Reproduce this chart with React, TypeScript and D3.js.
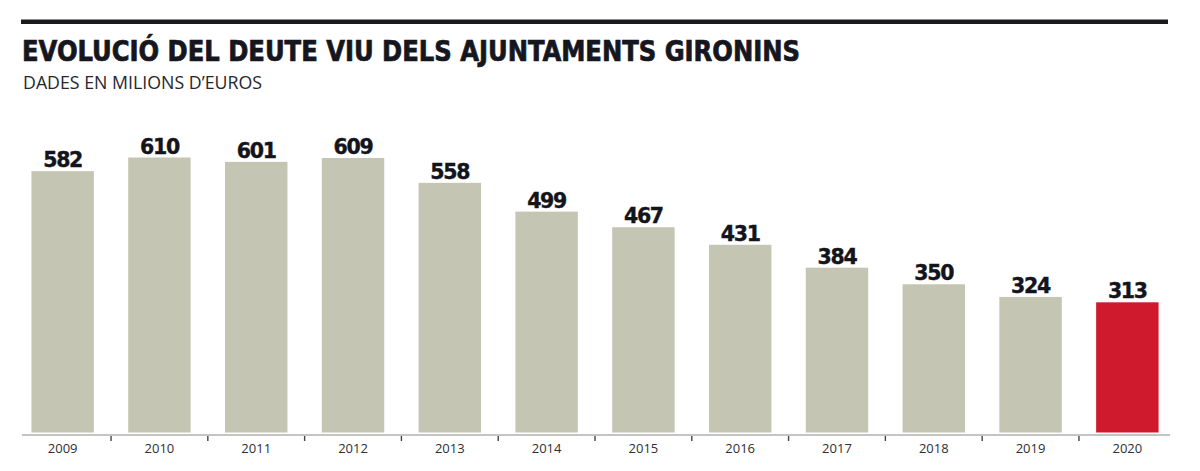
import React from "react";
import * as d3 from "d3";

const years = ["2009", "2010", "2011", "2012", "2013", "2014", "2015", "2016", "2017", "2018", "2019", "2020"];
const deute = [582, 610, 601, 609, 558, 499, 467, 431, 384, 350, 324, 313];
const highlightYear = "2020";

const W = 1200;
const H = 471;
const barBottom = 432.5;
const axisY = 435;

export default function App() {
    const x = d3.scaleBand<string>()
        .domain(years)
        .range([14, 1176])
        .paddingInner(0.355)
        .paddingOuter(0.18);

    // newspaper chart does not start at zero, fitted to the picture
    const y = d3.scaleLinear().domain([46, 610]).range([barBottom, 157.5]);

    const ticks = years.slice(1).map(yr => (x(yr) as number) - (x.step() - x.bandwidth()) / 2);

    return (
        <svg width={W} height={H} style={{position: "absolute", left: 0, top: 0, display: "block"}}>
            <rect x={0} y={0} width={W} height={H} fill="#ffffff"/>
            <rect x={21} y={19.5} width={1147} height={4.5} fill="#1b1b1f"/>
            <text x={22} y={61} fontFamily="'Liberation Sans Narrow', 'DejaVu Sans Condensed', sans-serif"
                  fontWeight="bold" fontSize={28} fill="#16161e" stroke="#16161e" strokeWidth={0.7}
                  textLength={778} lengthAdjust="spacingAndGlyphs">
                EVOLUCIÓ DEL DEUTE VIU DELS AJUNTAMENTS GIRONINS
            </text>
            <text x={23} y={88.5} fontFamily="'Open Sans', sans-serif" fontSize={17.5} fill="#26262c"
                  textLength={239} lengthAdjust="spacingAndGlyphs">
                DADES EN MILIONS D’EUROS
            </text>

            {years.map((yr, i) => (
                <g key={yr}>
                    <rect x={x(yr)} y={y(deute[i])} width={x.bandwidth()} height={barBottom - y(deute[i])}
                          fill={yr === highlightYear ? "#cf1a2d" : "#c4c5b3"}/>
                    <text x={(x(yr) as number) + x.bandwidth() / 2} y={y(deute[i]) - 4} textAnchor="middle"
                          fontFamily="'DejaVu Sans', sans-serif" fontWeight="bold" fontSize={20.5}
                          letterSpacing={-1.3} fill="#14141c" stroke="#14141c" strokeWidth={0.4}>
                        {deute[i]}
                    </text>
                    <text x={(x(yr) as number) + x.bandwidth() / 2} y={453} textAnchor="middle"
                          fontFamily="'Open Sans', sans-serif" fontSize={13} fill="#2e2e33">
                        {yr}
                    </text>
                </g>
            ))}

            <line x1={22} x2={1170} y1={axisY} y2={axisY} stroke="#8a8a8a" strokeWidth={1.2}/>
            {ticks.map((t, i) => (
                <line key={i} x1={t} x2={t} y1={axisY + 1} y2={axisY + 6} stroke="#444" strokeWidth={1.4}/>
            ))}
        </svg>
    );
}
